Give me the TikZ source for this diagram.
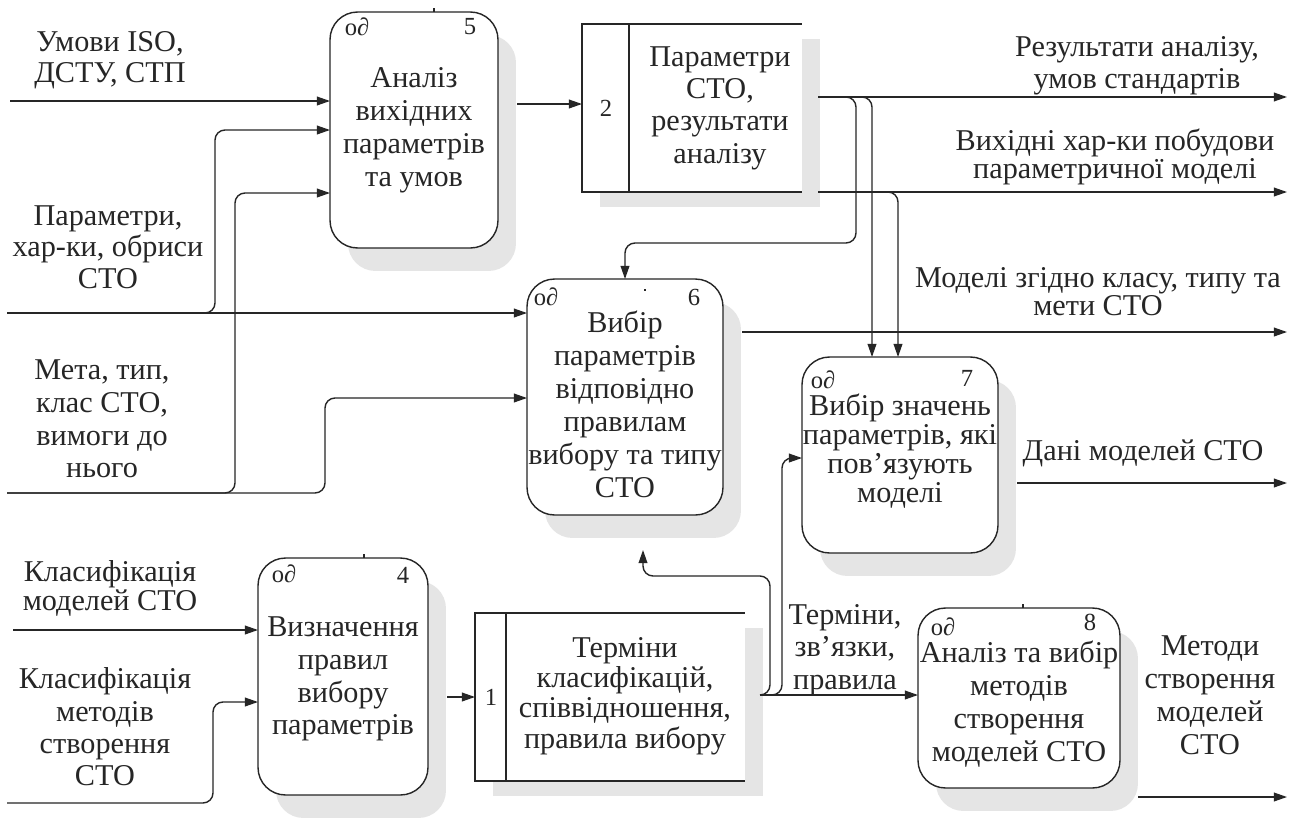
\documentclass[tikz,border=0pt]{standalone}
\usepackage{fontspec}
\setmainfont{Liberation Serif}
\usetikzlibrary{arrows.meta,shadows}

\tikzset{
  ink/.style={black!85},
  boxshadow/.style={drop shadow={shadow xshift=0.36cm, shadow yshift=-0.46cm, fill=black!10, opacity=1}},
  storeshadow/.style={drop shadow={shadow xshift=0.36cm, shadow yshift=-0.3cm, fill=black!10, opacity=1}},
  proc/.style={draw, ink, line width=0.8pt, rounded corners=0.55cm, fill=white, boxshadow,
    inner sep=0pt, outer sep=0pt},
  store/.style={fill=white, storeshadow, inner sep=0pt, outer sep=0pt},
  storeline/.style={ink, line width=0.8pt},
  flow/.style={ink, line width=0.8pt, rounded corners=0.2cm, -{Triangle[length=7.5pt,width=5pt]}},
  lbl/.style={ink, align=center, font=\fontsize{17.2}{17.8}\selectfont, inner sep=0pt},
  boxtxt/.style={ink, align=center, font=\fontsize{17.2}{18.8}\selectfont, inner sep=0pt},
  tag/.style={ink, font=\fontsize{14}{15}\selectfont, inner sep=0pt},
  num/.style={ink, font=\fontsize{14}{15}\selectfont, inner sep=0pt},
  tick/.style={ink, line width=0.6pt}
}

\begin{document}
\begin{tikzpicture}[x=0.02cm, y=-0.02cm]
\useasboundingbox[fill=white] (0,0) rectangle (1299,822);

% ---- processes ----
\node[proc, minimum width=3.36cm, minimum height=4.72cm] (p5) at (414,130) {};
\node[proc, minimum width=3.92cm, minimum height=4.72cm] (p6) at (625,397) {};
\node[proc, minimum width=3.92cm, minimum height=3.92cm] (p7) at (900,455) {};
\node[proc, minimum width=3.40cm, minimum height=4.74cm] (p4) at (343,676.5) {};
\node[proc, minimum width=4.04cm, minimum height=3.60cm] (p8) at (1019,698) {};

% ---- data stores (open on the right) ----
\node[store, minimum width=4.4cm, minimum height=3.36cm] (s2) at (692,108) {};
\draw[storeline] (s2.north east) -- (s2.north west) -- (s2.south west) -- (s2.south east);
\draw[storeline] ([xshift=0.94cm]s2.north west) -- ([xshift=0.94cm]s2.south west);
\node[store, minimum width=5.4cm, minimum height=3.36cm] (s1) at (610,697) {};
\draw[storeline] (s1.north east) -- (s1.north west) -- (s1.south west) -- (s1.south east);
\draw[storeline] ([xshift=0.62cm]s1.north west) -- ([xshift=0.62cm]s1.south west);

% ---- process texts ----
\node[boxtxt] (t5) at (414,130) {Аналіз\\вихідних\\параметрів\\та умов};
\node[boxtxt] (t6) at (625,404) {Вибір\\параметрів\\відповідно\\правилам\\вибору та типу\\СТО};
\node[boxtxt, font=\fontsize{17.2}{16.4}\selectfont] (t7) at (900,451) {Вибір значень\\параметрів, які\\пов’язують\\моделі};
\node[boxtxt, font=\fontsize{17.2}{18.6}\selectfont] (t4) at (343,679) {Визначення\\правил\\вибору\\параметрів};
\node[boxtxt] (t8) at (1019,704) {Аналіз та вибір\\методів\\створення\\моделей СТО};
\node[boxtxt, font=\fontsize{17.2}{18.4}\selectfont] (ts2) at (720,108) {Параметри\\СТО,\\результати\\аналізу};
\node[boxtxt, font=\fontsize{17.2}{17.2}\selectfont] (ts1) at (625,696) {Терміни\\класифікацій,\\співвідношення,\\правила вибору};

% ---- corner tags ----
\node[tag] (g5) at (357,27) {о∂};  \node[num] (n5) at (470,27) {5};
\node[tag] (g6) at (546,297) {о∂};  \node[num] (n6) at (694,297) {6};
\node[tag] (g7) at (823,380) {о∂};  \node[num] (n7) at (967,378) {7};
\node[tag] (g4) at (284,574) {о∂};  \node[num] (n4) at (403,575) {4};
\node[tag] (g8) at (943,627) {о∂};  \node[num] (n8) at (1090,622) {8};
\node[num] (ns2) at (606,108) {2};
\node[num] (ns1) at (491,697) {1};

% small anchor marks
\draw[tick] (434,8) -- (434,12);
\draw[tick] (364,554) -- (364,558);
\draw[tick] (1023,604) -- (1023,608);
\draw[tick] (645,289) -- (645,291);
\draw[tick] (889,468) -- (891,468);

% ---- inputs from the left ----
\coordinate (i1) at (10,101);
\draw[flow] (i1) -- (p5.west |- i1);

\coordinate (i2) at (7,313);
\coordinate (j2) at (215,130);
\draw[flow] (i2) -- (p6.west |- i2);
\draw[flow] (i2) -| (j2) -- (p5.west |- j2);

\coordinate (i3) at (7,493);
\coordinate (j3) at (235,193);
\coordinate (j3b) at (325,398);
\draw[flow] (i3) -| (j3) -- (p5.west |- j3);
\draw[flow] (i3) -| (j3b) -- (p6.west |- j3b);

\coordinate (i4) at (13,630);
\draw[flow] (i4) -- (p4.west |- i4);

\coordinate (i5) at (7,803);
\coordinate (j5) at (213,702);
\draw[flow] (i5) -| (j5) -- (p4.west |- j5);

% ---- internal flows ----
\coordinate (o5) at (517,104);
\draw[flow] (o5) -- (s2.west |- o5);

\coordinate (o2a) at (818,97);
\coordinate (e1) at (1287,97);
\draw[flow] (o2a) -- (e1);
\coordinate (k1) at (856,243);
\draw[flow] (o2a) -| (k1) -| (p6.north);
\coordinate (k2) at (872,0);
\draw[flow] (o2a) -| (p7.north -| k2);

\coordinate (o2b) at (818,192);
\coordinate (e2) at (1287,192);
\draw[flow] (o2b) -- (e2);
\coordinate (k3) at (898,0);
\draw[flow] (o2b) -| (p7.north -| k3);

\coordinate (o6) at (742,332);
\coordinate (e3) at (1287,332);
\draw[flow] (o6) -- (e3);

\coordinate (o7) at (1017,483);
\coordinate (e4) at (1287,483);
\draw[flow] (o7) -- (e4);

\coordinate (o4) at (447,697);
\draw[flow] (o4) -- (s1.west |- o4);

\coordinate (o1) at (760,695);
\draw[flow] (o1) -- (p8.west |- o1);
\coordinate (k4) at (770,576);
\coordinate (t6end) at (643,550);
\draw[flow] (o1) -| (k4) -| (t6end);
\coordinate (k5) at (782,458);
\draw[flow] (o1) -| (k5) -- (p7.west |- k5);

\coordinate (o8) at (1138,797);
\coordinate (e5) at (1287,797);
\draw[flow] (o8) -- (e5);

% ---- flow labels ----
\node[lbl] (l1) at (110,60) {Умови ISO,\\ДСТУ, СТП};
\node[lbl] (l2) at (108,247) {Параметри,\\хар-ки, обриси\\СТО};
\node[lbl, font=\fontsize{17.2}{18.6}\selectfont] (l3) at (102,419) {Мета, тип,\\клас СТО,\\вимоги до\\нього};
\node[lbl, font=\fontsize{17.2}{16.5}\selectfont] (l4) at (110,588) {Класифікація\\моделей СТО};
\node[lbl, font=\fontsize{17.2}{18.4}\selectfont] (l5) at (105,727) {Класифікація\\методів\\створення\\СТО};
\node[lbl, font=\fontsize{17.2}{18}\selectfont] (r1) at (1137,66) {Результати аналізу,\\умов стандартів};
\node[lbl, font=\fontsize{17.2}{16}\selectfont] (r2) at (1115,157) {Вихідні хар-ки побудови\\параметричної моделі};
\node[lbl, font=\fontsize{17.2}{16}\selectfont] (r3) at (1098,292) {Моделі згідно класу, типу та\\мети СТО};
\node[lbl] (r4) at (1143,453) {Дані моделей СТО};
\node[lbl, font=\fontsize{17.2}{18.5}\selectfont] (r5) at (845,650) {Терміни,\\зв’язки,\\правила};
\node[lbl, font=\fontsize{17.2}{18.8}\selectfont] (r6) at (1210,695) {Методи\\створення\\моделей\\СТО};
\end{tikzpicture}
\end{document}
